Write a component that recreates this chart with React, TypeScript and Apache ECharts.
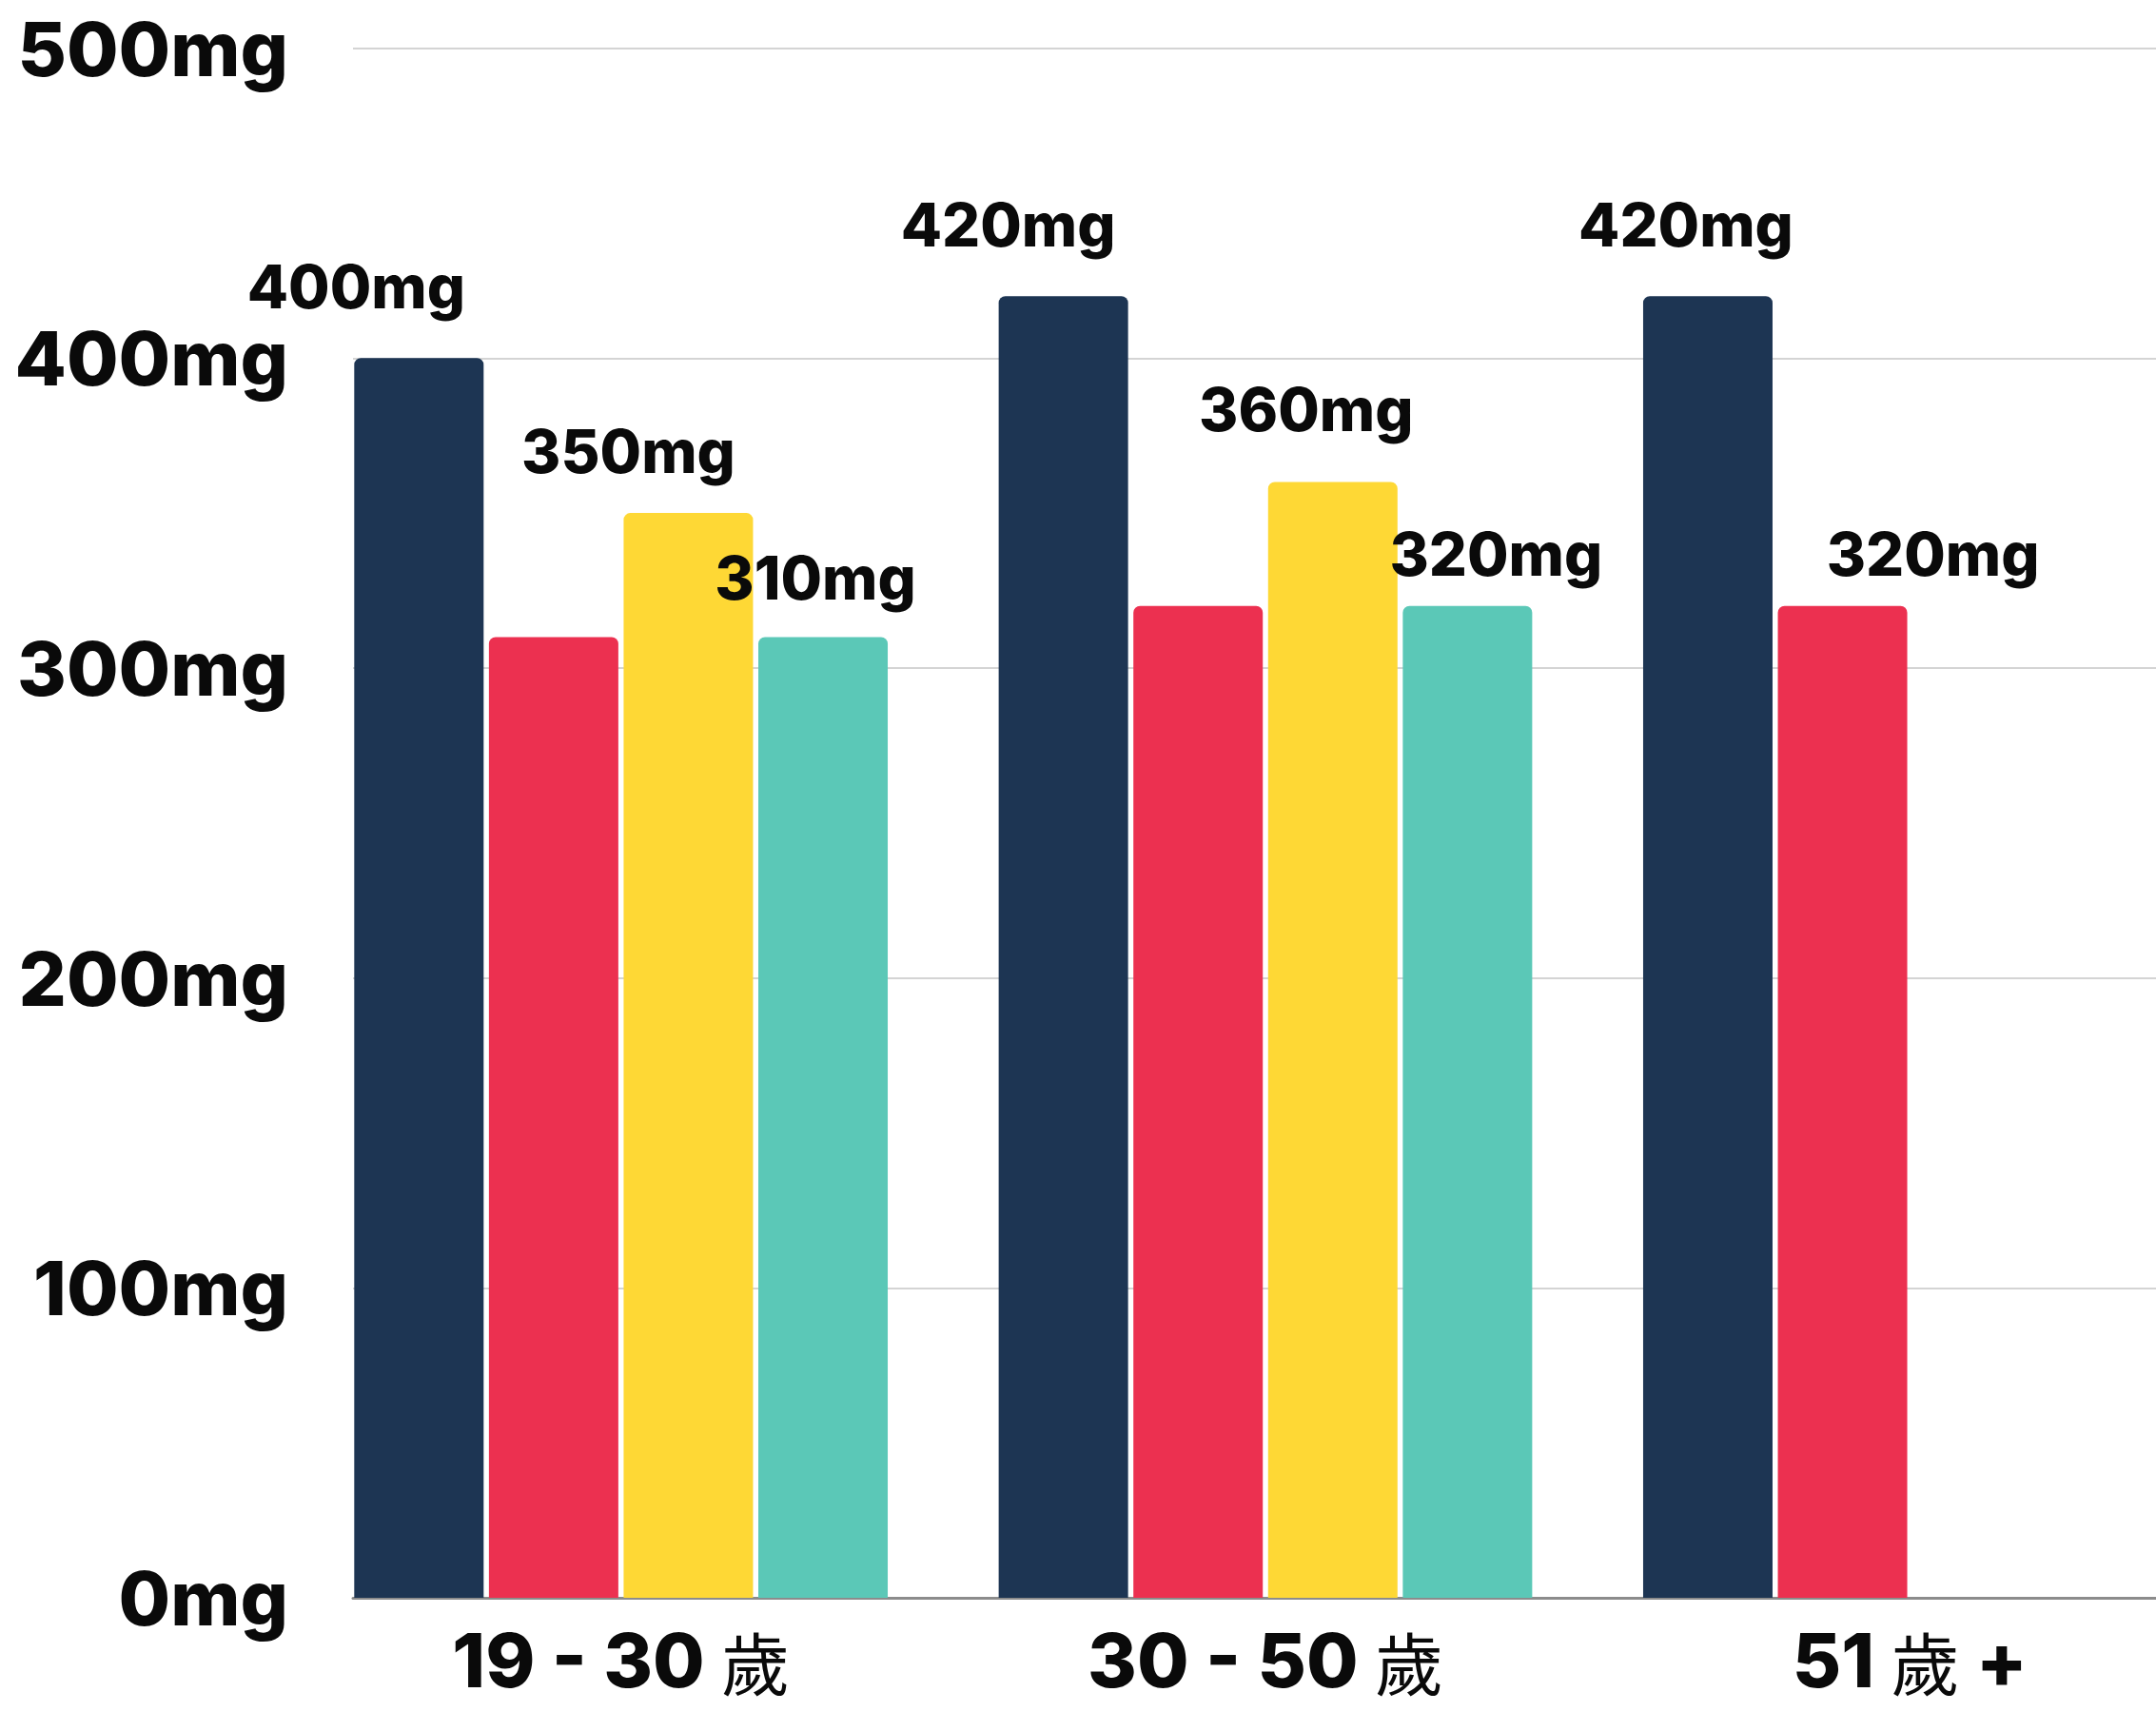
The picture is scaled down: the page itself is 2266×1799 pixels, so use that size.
import React, { useEffect, useRef } from "react";
import * as echarts from "echarts";

const categories = ["19 - 30 歲", "30 - 50 歲", "51 歲 +"];
const navyValues = [400, 420, 420];
const redValues = [310, 320, 320];
const yellowValues = [350, 360, null];
const tealValues = [310, 320, null];
const yTicks = [0, 100, 200, 300, 400, 500];

const COLORS = ["#1D3553", "#EC3050", "#FED835", "#5BC8B7"];
const NUM_FONT = "Inter, 'Open Sans', sans-serif";
const CJK_FONT = "'Noto Sans CJK TC', 'Noto Sans CJK SC', sans-serif";

const PAGE_W = 2266;
const PAGE_H = 1799;
const EXTRA_W = 80; // plot area continues past the right edge of the page

// label offsets [dx, dy] per series per category; null = no label
const LABEL_OFFSETS: (number[] | null)[][] = [
  [[-66, -39], [-58, -39], [-23, -39]],
  [null, null, [95, -18]],
  [[-63, -29], [-28, -40], null],
  [[-8, -26], [30, -18], null],
];

export default function App() {
  const ref = useRef<HTMLDivElement>(null);
  useEffect(() => {
    if (!ref.current) return;
    const chart = echarts.init(ref.current, undefined, { renderer: "svg" });
    const seriesValues = [navyValues, redValues, yellowValues, tealValues];
    const names = ["navy", "red", "yellow", "teal"];
    const series = seriesValues.map((vals, si) => ({
      type: "bar",
      name: names[si],
      xAxisIndex: 0,
      yAxisIndex: 0,
      barWidth: 136,
      barGap: "4.1%",
      itemStyle: { color: COLORS[si], borderRadius: [7, 7, 0, 0] },
      data: vals.map((v, ci) => {
        const off = LABEL_OFFSETS[si][ci];
        return {
          value: v,
          label: off
            ? {
                show: true,
                position: "top",
                distance: 5,
                offset: off,
                formatter: "{c}mg",
                fontFamily: NUM_FONT,
                fontWeight: 800,
                fontSize: 63,
                lineHeight: 63,
                color: "#0a0a0a",
              }
            : { show: false },
        };
      }),
    }));
    const option: any = {
      animation: false,
      backgroundColor: "#ffffff",
      grid: [
        { left: 314, right: 0, top: 50.6, bottom: 120, containLabel: false },
        { left: 371, right: EXTRA_W, top: 50.6, bottom: 120, containLabel: false },
      ],
      xAxis: [
        {
          type: "category",
          gridIndex: 0,
          data: categories,
          axisLine: { show: false },
          axisTick: { show: false },
          axisLabel: {
            margin: 30,
            formatter: (v: string) =>
              v.replace(/([^歲]+)/g, "{n|$1}").replace("歲", "{c|歲}"),
            rich: {
              n: {
                fontFamily: NUM_FONT,
                fontWeight: 800,
                fontSize: 79,
                lineHeight: 70,
                color: "#0a0a0a",
              },
              c: {
                fontFamily: CJK_FONT,
                fontWeight: 400,
                fontSize: 72,
                lineHeight: 70,
                color: "#0a0a0a",
              },
            },
          },
        },
        {
          type: "value",
          gridIndex: 1,
          min: 0,
          max: 1,
          axisLine: { show: true, lineStyle: { color: "#8c8c8c", width: 3 } },
          axisTick: { show: false },
          axisLabel: { show: false },
          splitLine: { show: false },
        },
      ],
      yAxis: [
        {
          type: "value",
          gridIndex: 0,
          min: yTicks[0],
          max: yTicks[yTicks.length - 1],
          interval: 100,
          show: false,
          splitLine: { show: false },
        },
        {
          type: "value",
          gridIndex: 1,
          min: yTicks[0],
          max: yTicks[yTicks.length - 1],
          interval: 100,
          axisLine: { show: false },
          axisTick: { show: false },
          axisLabel: {
            formatter: "{value}mg",
            fontFamily: NUM_FONT,
            fontWeight: 800,
            fontSize: 79,
            color: "#0a0a0a",
            margin: 68,
            padding: [0, 0, 10, 0],
          },
          splitLine: { show: true, lineStyle: { color: "#d4d4d4", width: 2 } },
        },
      ],
      series,
    };
    chart.setOption(option);
    return () => chart.dispose();
  }, []);
  return (
    <div
      style={{
        position: "absolute",
        left: 0,
        top: 0,
        width: PAGE_W,
        height: PAGE_H,
        overflow: "hidden",
        background: "#fff",
      }}
    >
      <div ref={ref} style={{ width: PAGE_W + EXTRA_W, height: PAGE_H }} />
    </div>
  );
}
